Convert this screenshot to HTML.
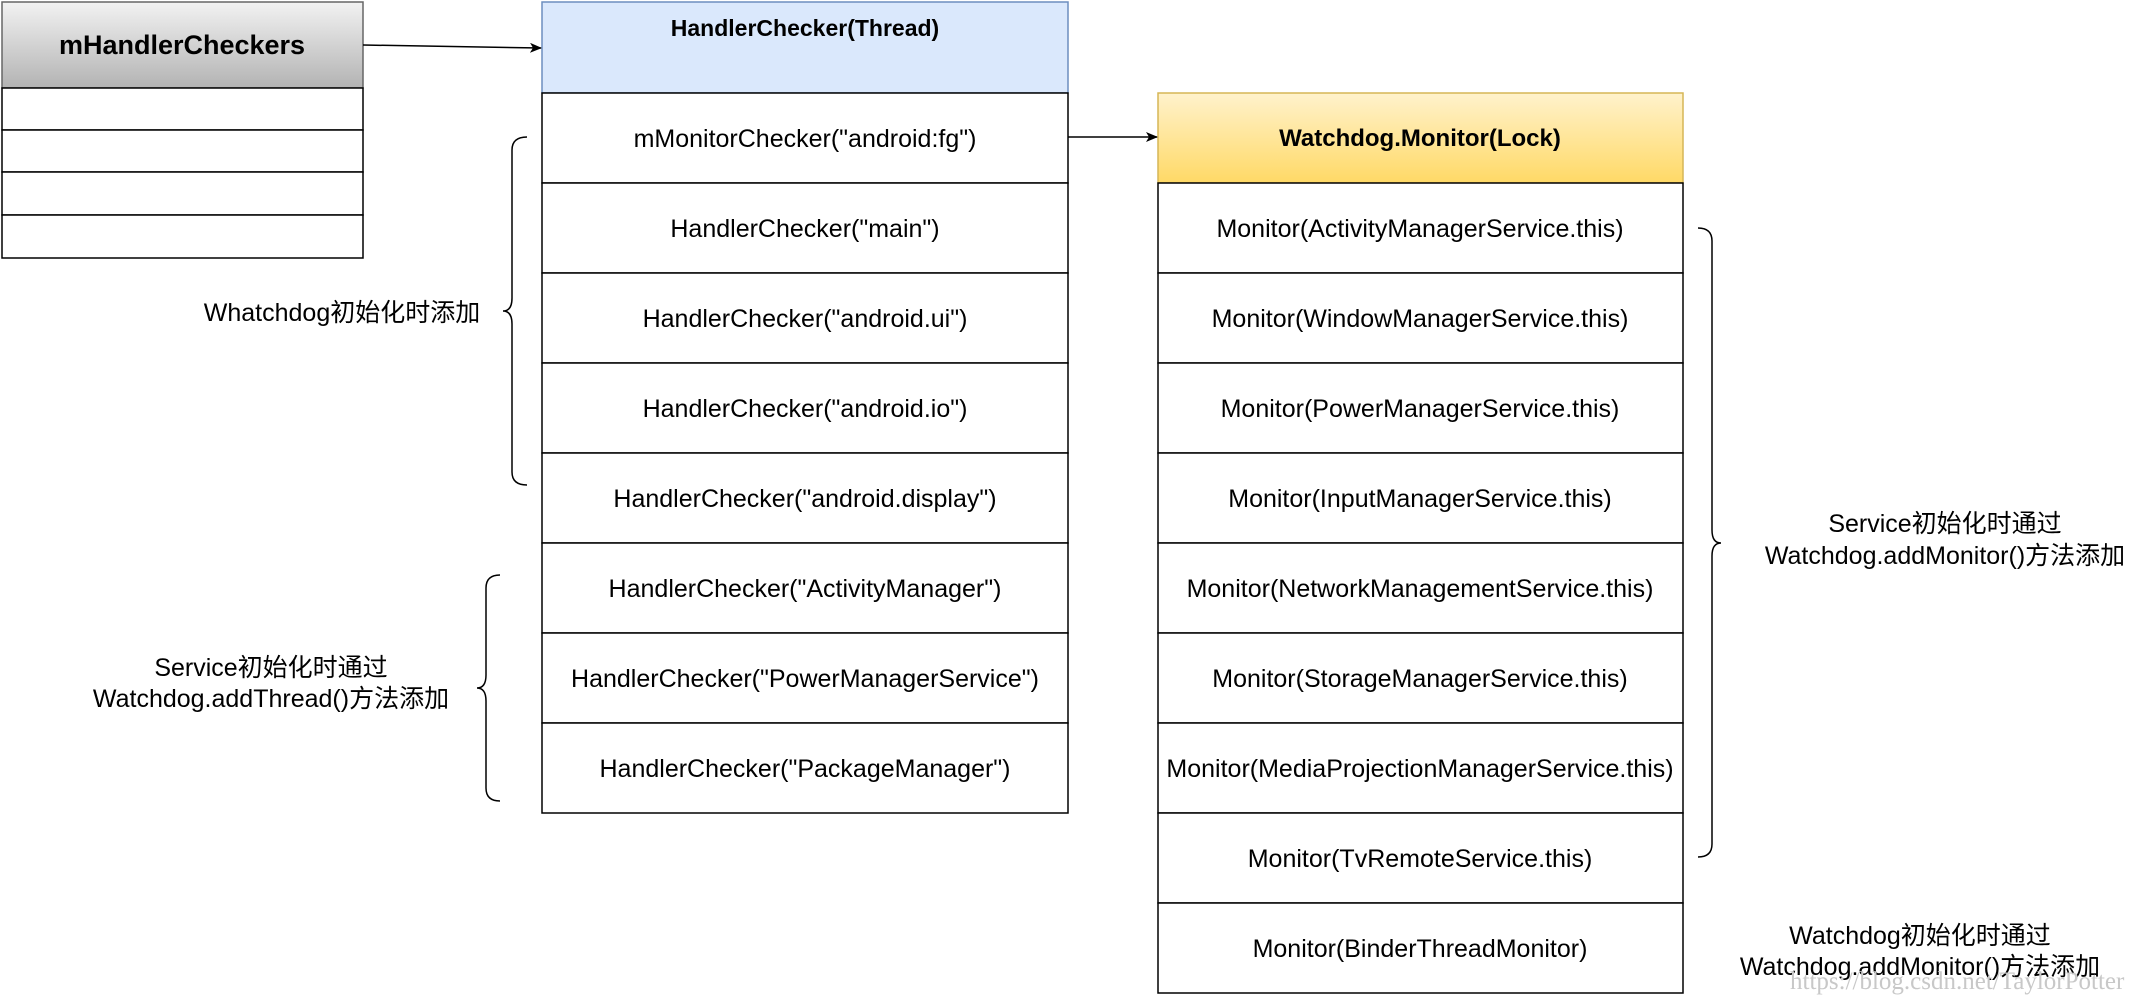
<!DOCTYPE html>
<html><head><meta charset="utf-8"><style>
html,body{margin:0;padding:0;background:#fff;width:2137px;height:997px;overflow:hidden}
text{font-family:"Liberation Sans","Noto Sans CJK SC",sans-serif;font-size:25px;fill:#000}
</style></head><body>
<svg width="2137" height="997" xmlns="http://www.w3.org/2000/svg">
<defs>
<linearGradient id="g1" x1="0" y1="0" x2="0" y2="1"><stop offset="0" stop-color="#f2f2f2"/><stop offset="1" stop-color="#b3b3b3"/></linearGradient>
<linearGradient id="g2" x1="0" y1="0" x2="0" y2="1"><stop offset="0" stop-color="#fff2cc"/><stop offset="1" stop-color="#ffd966"/></linearGradient>
<marker id="ar" markerWidth="12" markerHeight="10" refX="11" refY="5" orient="auto" markerUnits="userSpaceOnUse"><path d="M0,0 L12,5 L0,10 L3,5 z" fill="#000"/></marker>
</defs>
<g stroke="#000" stroke-width="1.5" fill="none">
<rect x="2" y="2" width="361" height="86" fill="url(#g1)" stroke="#666"/>
<rect x="2" y="88" width="361" height="42" fill="#fff"/>
<rect x="2" y="130" width="361" height="42" fill="#fff"/>
<rect x="2" y="172" width="361" height="43" fill="#fff"/>
<rect x="2" y="215" width="361" height="43" fill="#fff"/>
<rect x="542" y="2" width="526" height="91" fill="#dae8fc" stroke="#6c8ebf"/>
<rect x="542" y="93" width="526" height="90" fill="#fff"/>
<rect x="542" y="183" width="526" height="90" fill="#fff"/>
<rect x="542" y="273" width="526" height="90" fill="#fff"/>
<rect x="542" y="363" width="526" height="90" fill="#fff"/>
<rect x="542" y="453" width="526" height="90" fill="#fff"/>
<rect x="542" y="543" width="526" height="90" fill="#fff"/>
<rect x="542" y="633" width="526" height="90" fill="#fff"/>
<rect x="542" y="723" width="526" height="90" fill="#fff"/>
<rect x="1158" y="93" width="525" height="90" fill="url(#g2)" stroke="#d6b656"/>
<rect x="1158" y="183" width="525" height="90" fill="#fff"/>
<rect x="1158" y="273" width="525" height="90" fill="#fff"/>
<rect x="1158" y="363" width="525" height="90" fill="#fff"/>
<rect x="1158" y="453" width="525" height="90" fill="#fff"/>
<rect x="1158" y="543" width="525" height="90" fill="#fff"/>
<rect x="1158" y="633" width="525" height="90" fill="#fff"/>
<rect x="1158" y="723" width="525" height="90" fill="#fff"/>
<rect x="1158" y="813" width="525" height="90" fill="#fff"/>
<rect x="1158" y="903" width="525" height="90" fill="#fff"/>
<path d="M363,45 L541,48" marker-end="url(#ar)"/>
<path d="M1068,137 L1157,137" marker-end="url(#ar)"/>
<path d="M527,137 Q512,137 512,150 L512,298 Q512,311 503,311 Q512,311 512,324 L512,472 Q512,485 527,485"/>
<path d="M500,575 Q486,575 486,588 L486,675 Q486,688 477,688 Q486,688 486,701 L486,788 Q486,801 500,801"/>
<path d="M1698,228 Q1712,228 1712,241 L1712,530 Q1712,543 1721,543 Q1712,543 1712,556 L1712,844 Q1712,857 1698,857"/>
</g>
<g text-anchor="middle">
<text x="182" y="54" font-weight="bold" style="font-size:27px">mHandlerCheckers</text>
<text x="805" y="36" font-weight="bold" style="font-size:23px">HandlerChecker(Thread)</text>
<text x="805" y="147">mMonitorChecker("android:fg")</text>
<text x="805" y="237">HandlerChecker("main")</text>
<text x="805" y="327">HandlerChecker("android.ui")</text>
<text x="805" y="417">HandlerChecker("android.io")</text>
<text x="805" y="507">HandlerChecker("android.display")</text>
<text x="805" y="597">HandlerChecker("ActivityManager")</text>
<text x="805" y="687">HandlerChecker("PowerManagerService")</text>
<text x="805" y="777">HandlerChecker("PackageManager")</text>
<text x="1420" y="146" font-weight="bold" style="font-size:24px">Watchdog.Monitor(Lock)</text>
<text x="1420" y="237">Monitor(ActivityManagerService.this)</text>
<text x="1420" y="327">Monitor(WindowManagerService.this)</text>
<text x="1420" y="417">Monitor(PowerManagerService.this)</text>
<text x="1420" y="507">Monitor(InputManagerService.this)</text>
<text x="1420" y="597">Monitor(NetworkManagementService.this)</text>
<text x="1420" y="687">Monitor(StorageManagerService.this)</text>
<text x="1420" y="777">Monitor(MediaProjectionManagerService.this)</text>
<text x="1420" y="867">Monitor(TvRemoteService.this)</text>
<text x="1420" y="957">Monitor(BinderThreadMonitor)</text>
<text x="342" y="321">Whatchdog初始化时添加</text>
<text x="271" y="676">Service初始化时通过</text>
<text x="271" y="707">Watchdog.addThread()方法添加</text>
<text x="1945" y="532">Service初始化时通过</text>
<text x="1945" y="564">Watchdog.addMonitor()方法添加</text>
<text x="1920" y="944">Watchdog初始化时通过</text>
<text x="1920" y="975">Watchdog.addMonitor()方法添加</text>
</g>
<text x="1790" y="989" style="font-family:'Liberation Serif',serif;font-size:25px;fill:#c8c8c8">https://blog.csdn.net/TaylorPotter</text>
</svg>
</body></html>
